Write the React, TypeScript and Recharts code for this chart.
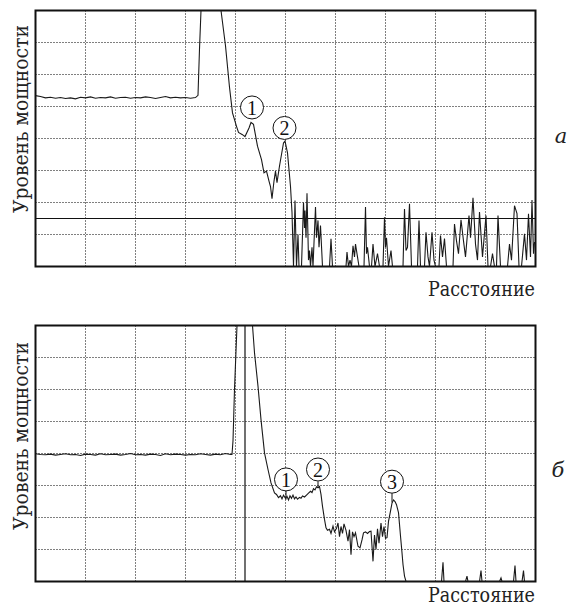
import React from 'react';
import {
  LineChart,
  Line,
  XAxis,
  YAxis,
  CartesianGrid,
  ReferenceLine,
  ReferenceDot,
  ReferenceArea,
} from 'recharts';

// ---------- Panel "а" ----------
const distA = [
  0.0, 0.1, 0.2, 0.3, 0.4, 0.5, 0.6, 0.7, 0.8, 0.9, 1.0, 1.1, 1.2, 1.3, 1.4, 1.5, 1.6,
  1.7, 1.8, 1.9, 2.0, 2.1, 2.2, 2.3, 2.4, 2.5, 2.6, 2.7, 2.8, 2.9, 3.0, 3.1, 3.2,
  3.25, 3.28, 3.31, 3.71, 3.8, 3.88, 3.94, 4.02, 4.06, 4.14, 4.19, 4.27, 4.31, 4.36,
  4.44, 4.52, 4.57, 4.62, 4.67, 4.7, 4.73, 4.77, 4.8, 4.83, 4.88, 4.96, 4.99, 5.04,
  5.1, 5.13, 5.16,
  5.19, 5.22, 5.25, 5.27, 5.32, 5.36, 5.38, 5.39, 5.41, 5.43, 5.46, 5.48, 5.5, 5.53,
  5.55, 5.6, 5.62, 5.65, 5.67, 5.7, 5.74, 5.88, 5.91, 5.94, 6.21, 6.23, 6.26, 6.29,
  6.32, 6.35, 6.38, 6.4, 6.44, 6.47, 6.57, 6.6, 6.62, 6.64, 6.68, 6.72, 6.75, 6.79,
  6.84, 6.88, 6.95, 6.98, 7.0, 7.02, 7.06, 7.11, 7.14, 7.35, 7.38, 7.41, 7.44, 7.48,
  7.52, 7.64, 7.67, 7.7, 7.78, 7.81, 7.85, 7.88, 7.93, 7.97, 8.0, 8.07, 8.1, 8.14,
  8.18, 8.22, 8.35, 8.38, 8.42, 8.46, 8.51, 8.56, 8.6, 8.67, 8.7, 8.75, 8.8, 8.84,
  8.88, 8.94, 9.01, 9.05, 9.1, 9.14, 9.18, 9.22, 9.25, 9.3, 9.44, 9.48, 9.52, 9.58,
  9.63, 9.67, 9.72, 9.78, 9.82, 9.86, 9.9, 9.93, 9.96, 9.98, 10.0,
];
const levelA = [
  5.34, 5.31, 5.27, 5.29, 5.26, 5.28, 5.25, 5.27, 5.24, 5.29, 5.27, 5.3, 5.26, 5.28,
  5.27, 5.3, 5.26, 5.28, 5.29, 5.26, 5.28, 5.27, 5.3, 5.28, 5.25, 5.28, 5.31, 5.27,
  5.29, 5.27, 5.28, 5.26, 5.28,
  5.35, 6.8, 8.0, 8.0, 6.9, 5.6, 4.8, 4.38, 4.19, 4.12, 4.06, 4.33, 4.5, 4.44,
  3.76, 3.34, 2.93, 2.98, 2.67, 2.5, 2.12, 2.67, 2.98, 2.62, 3.14, 3.86, 3.92, 3.55,
  2.5, 1.69, 0,
  2.06, 0, 1.0, 0, 0, 2.0, 1.2, 1.75, 0.9, 2.29, 0.2, 0.5, 0, 0.6,
  0, 1.86, 0.9, 1.44, 0.6, 1.28, 0, 0, 0.87, 0, 0, 0.45, 0, 0.2,
  0, 0.65, 0.3, 0.7, 0.3, 0, 0, 1.86, 0.4, 0.6, 0, 0, 0.7, 0,
  0.4, 0, 0, 1.54, 0.6, 0.9, 0, 0.5, 0, 0, 1.8, 0.5, 0.6, 1.96,
  0, 0, 1.44, 0, 0, 1.07, 0.3, 0, 1.07, 0.2, 0, 0, 0.97, 0.3,
  0.87, 0, 0, 1.33, 0.8, 0.4, 1.46, 0.8, 0.3, 1.59, 0.9, 2.15, 0.7, 0.2,
  1.7, 0.3, 1.59, 0, 0, 0.4, 0, 0, 1.59, 0, 0, 0.7, 0.2, 1.9,
  1.65, 0, 0, 1.02, 0.2, 1.65, 0.3, 2.08, 0.4, 0.75, 0.75,
];
const thresholdA = 1.5;
const circleXA = [4.33, 4.98];
const circleYA = [4.97, 4.33];
const circleLabelsA = ['1', '2'];

// ---------- Panel "б" ----------
const distB = [
  0.0, 0.1, 0.2, 0.3, 0.4, 0.5, 0.6, 0.7, 0.8, 0.9, 1.0, 1.1, 1.2, 1.3, 1.4, 1.5, 1.6,
  1.7, 1.8, 1.9, 2.0, 2.1, 2.2, 2.3, 2.4, 2.5, 2.6, 2.7, 2.8, 2.9, 3.0, 3.1, 3.2, 3.3,
  3.4, 3.5, 3.6, 3.7, 3.8, 3.9,
  3.93, 3.95, 3.98, 4.03, 4.34, 4.38, 4.45, 4.51, 4.58, 4.65, 4.71, 4.78, 4.82, 4.86,
  4.9, 4.93, 4.96, 5.0, 5.03, 5.06, 5.09, 5.12, 5.15, 5.18, 5.21, 5.24, 5.28, 5.31,
  5.34, 5.38, 5.42, 5.46, 5.5, 5.53, 5.56, 5.59, 5.62, 5.65, 5.68, 5.71, 5.74, 5.78,
  5.81, 5.84, 5.88, 5.91, 5.95, 5.98, 6.02, 6.05, 6.08, 6.11, 6.14, 6.17, 6.21, 6.25,
  6.28, 6.31, 6.34, 6.37, 6.4, 6.45, 6.49, 6.53, 6.56, 6.6, 6.64, 6.68, 6.71, 6.75,
  6.78, 6.81, 6.84, 6.87, 6.91, 6.94, 6.97, 7.0, 7.03, 7.06, 7.1, 7.13, 7.16, 7.19,
  7.22, 7.26, 7.3, 7.33, 7.35, 7.38, 7.41,
  8.12, 8.15, 8.17, 8.6, 8.63, 8.65, 8.88, 8.91, 8.93, 9.28, 9.31, 9.33, 9.56, 9.59,
  9.61, 9.73, 9.76, 9.78, 10.0,
];
const levelB = [
  3.99, 3.97, 3.96, 3.98, 3.95, 3.97, 3.99, 3.96, 3.97, 3.94, 3.98, 3.97, 3.95, 3.99,
  3.96, 3.97, 3.98, 3.95, 3.97, 4.0, 3.96, 3.97, 3.95, 3.98, 3.97, 3.94, 3.99, 3.96,
  3.98, 3.97, 3.95, 3.97, 3.96, 3.99, 3.97, 3.95, 3.98, 3.96, 4.0, 3.97,
  3.97, 4.4, 6.0, 8.0, 8.0, 7.15, 6.1, 5.06, 4.02, 3.5, 3.08, 2.77, 2.72, 2.62,
  2.68, 2.58, 2.7, 2.6, 2.66, 2.55, 2.68, 2.6, 2.7, 2.58, 2.64, 2.57, 2.63, 2.6,
  2.67, 2.64, 2.7, 2.76, 2.82, 2.78, 2.9, 2.86, 2.96, 2.93, 2.97, 2.72, 2.35, 1.94,
  1.68, 1.6, 1.63, 1.5, 1.73, 1.55, 1.66, 1.83, 1.4, 1.72, 1.5, 1.8, 1.6, 1.26,
  1.62, 0.84, 1.55, 1.4, 1.52, 1.1, 1.05, 1.3, 1.52, 1.55, 1.5, 1.56, 1.57, 0.63,
  1.45, 1.0, 1.65, 1.2, 1.83, 1.4, 1.72, 1.35, 1.37, 1.88, 2.2, 2.45, 2.55, 2.5,
  2.4, 2.15, 1.42, 0.9, 0.53, 0.17, 0,
  0, 0.6, 0, 0, 0.17, 0, 0, 0.34, 0, 0, 0.11, 0, 0, 0.5,
  0, 0, 0.34, 0, 0,
];
const markerB = 4.19;
const circleXB = [5.01, 5.65, 7.13];
const circleYB = [3.19, 3.5, 3.12];
const circleLabelsB = ['1', '2', '3'];
const tickTopB = [2.88, 3.13, 2.79];
const tickBottomB = [2.56, 2.93, 2.47];

const xTicks = [0, 1, 2, 3, 4, 5, 6, 7, 8, 9, 10];
const yTicks = [0, 1, 2, 3, 4, 5, 6, 7, 8];

const yLabel = 'Уровень мощности';
const xLabel = 'Расстояние';

const FONT = "'DejaVu Serif', 'Liberation Serif', 'Times New Roman', serif";
const DIGIT_FONT = "'Liberation Serif', 'Times New Roman', serif";

const zip = (xs: number[], ys: number[]) => xs.map((x, i) => ({ x, y: ys[i] }));

type PanelProps = {
  data: { x: number; y: number }[];
  top: number;
  height: number;
  marginBottom: number;
  children?: React.ReactNode;
  circlesX: number[];
  circlesY: number[];
  labels: string[];
};

function Panel({ data, top, height, marginBottom, circlesX, circlesY, labels, children }: PanelProps) {
  return (
    <div style={{ position: 'absolute', left: 0, top, width: 570, height }}>
      <LineChart
        width={570}
        height={height}
        data={data}
        margin={{ top: 10.5, left: 35.5, right: 34.5, bottom: marginBottom }}
      >
        <XAxis type="number" dataKey="x" domain={[0, 10]} ticks={xTicks} hide allowDataOverflow />
        <YAxis type="number" domain={[0, 8]} ticks={yTicks} hide allowDataOverflow />
        <CartesianGrid stroke="#000" strokeDasharray="1 2" strokeWidth={1} />
        {children}
        <Line
          type="linear"
          dataKey="y"
          stroke="#1a1a1a"
          strokeWidth={1.1}
          dot={false}
          isAnimationActive={false}
        />
        <ReferenceArea x1={0} x2={10} y1={0} y2={8} fill="none" stroke="#111" strokeWidth={2} fillOpacity={0} />
        {circlesX.map((cx, i) => (
          <ReferenceDot
            key={i}
            x={cx}
            y={circlesY[i]}
            r={11.5}
            fill="#fff"
            stroke="#111"
            strokeWidth={1}
            label={{
              value: labels[i],
              position: 'center',
              fill: '#111',
              fontSize: 20,
              style: { fontFamily: DIGIT_FONT },
            }}
          />
        ))}
      </LineChart>
    </div>
  );
}

export default function App() {
  const dataA = zip(distA, levelA);
  const dataB = zip(distB, levelB);
  return (
    <div style={{ position: 'absolute', left: 0, top: 0, width: 570, height: 608, background: '#fff' }}>
      <Panel
        data={dataA}
        top={0}
        height={300}
        marginBottom={33.5}
        circlesX={circleXA}
        circlesY={circleYA}
        labels={circleLabelsA}
      >
        <ReferenceLine y={thresholdA} stroke="#111" strokeWidth={1.2} />
      </Panel>
      <Panel
        data={dataB}
        top={315}
        height={293}
        marginBottom={26.5}
        circlesX={circleXB}
        circlesY={circleYB}
        labels={circleLabelsB}
      >
        <ReferenceLine x={markerB} stroke="#111" strokeWidth={1.2} />
        {circleXB.map((cx, i) => (
          <ReferenceLine
            key={'t' + i}
            segment={[
              { x: cx, y: tickTopB[i] },
              { x: cx, y: tickBottomB[i] },
            ]}
            stroke="#111"
            strokeWidth={1}
          />
        ))}
      </Panel>
      <svg
        width={570}
        height={608}
        style={{ position: 'absolute', left: 0, top: 0, pointerEvents: 'none' }}
      >
        <g style={{ fontFamily: FONT, fontSize: 21 }} fill="#222">
          <text
            transform="translate(28,119) rotate(-90)"
            x={-94}
            textLength={188}
            lengthAdjust="spacingAndGlyphs"
          >
            {yLabel}
          </text>
          <text
            transform="translate(28,436) rotate(-90)"
            x={-94}
            textLength={188}
            lengthAdjust="spacingAndGlyphs"
          >
            {yLabel}
          </text>
          <text x={428} y={296} textLength={107} lengthAdjust="spacingAndGlyphs">
            {xLabel}
          </text>
          <text x={428} y={602} textLength={107} lengthAdjust="spacingAndGlyphs">
            {xLabel}
          </text>
          <text x={561} y={143} textAnchor="middle" style={{ fontStyle: 'italic' }}>
            а
          </text>
          <text x={558} y={477} textAnchor="middle" style={{ fontStyle: 'italic' }}>
            б
          </text>
        </g>
      </svg>
    </div>
  );
}
